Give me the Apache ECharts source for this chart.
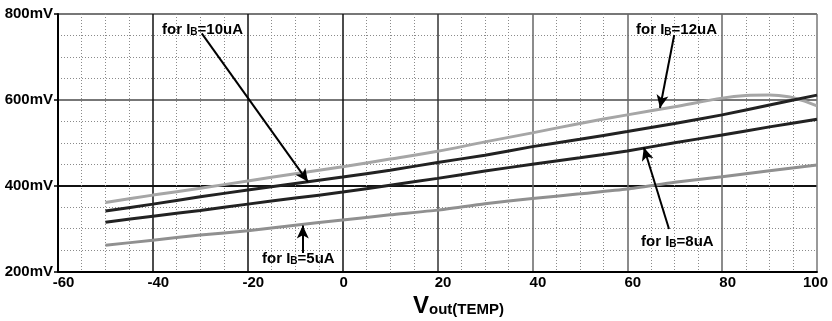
<!DOCTYPE html>
<html>
<head>
<meta charset="utf-8">
<script src="https://cdn.jsdelivr.net/npm/echarts@6/dist/echarts.min.js"></script>
<style>html,body{margin:0;padding:0;background:#fff}#c{width:832px;height:321px}</style>
</head>
<body>
<div id="c"></div>
<script>
// temperatures (deg C)
const temps = [-50, -40, -30, -20, -10, 0, 10, 20, 30, 40, 50, 60, 70, 80, 90, 100];
const temps12 = [-50, -40, -30, -20, -10, 0, 10, 20, 30, 40, 50, 60, 70, 80, 85, 90, 94, 97, 100];
// output voltage (mV)
const ib12 = [361, 378, 394, 411, 428, 444, 462, 480, 502, 523, 545, 565, 584, 604, 610, 611, 607, 598, 586];
const ib10 = [341, 357, 374, 390, 405, 420, 436, 454, 471, 491, 508, 526, 545, 565, 588, 611];
const ib8  = [315, 329, 342, 357, 371, 385, 401, 417, 434, 450, 465, 481, 500, 518, 537, 555];
const ib5  = [261, 273, 285, 295, 308, 320, 332, 343, 358, 370, 381, 392, 408, 421, 435, 448];
// axis ticks
const xTicks = {min: -60, max: 100, step: 20};
const yTicks = {min: 200, max: 800, step: 200};
// annotation arrows (tail -> tip) in data units
const arrows = [
  [[-29.7, 755], [-7.3, 409]],
  [[69.9, 751], [66.9, 581]],
  [[-8.4, 243], [-8.4, 307]],
  [[68.8, 299], [63.5, 489]]
];
const labels = [
  {text: '10uA', left: 162, cy: 31.5},
  {text: '12uA', left: 636, cy: 31.5},
  {text: '5uA', left: 262, cy: 260.5},
  {text: '8uA', left: 641, cy: 244}
];

const chart = echarts.init(document.getElementById('c'), null, {renderer: 'canvas'});
const font = 'Liberation Sans, Arial, sans-serif';
function pairs(xs, ys) { return xs.map((x, i) => [x, ys[i]]); }

const option = {
  animation: false,
  backgroundColor: '#fff',
  grid: {left: 58, right: 15, top: 14, bottom: 49.5, containLabel: false},
  xAxis: {
    type: 'value', min: xTicks.min, max: xTicks.max, interval: xTicks.step,
    axisLine: {show: true, onZero: false, lineStyle: {color: '#000', width: 2}},
    axisTick: {show: false},
    axisLabel: {
      margin: 4, fontFamily: font, fontWeight: 'bold', fontSize: 15, color: '#000',
      formatter: v => v === 100 ? '{n|' + v + '}' : (v === 0 ? '{z|' + v + '}' : '{p|' + v + '}'),
      rich: {
        n: {fontFamily: font, fontWeight: 'bold', fontSize: 15, color: '#000', padding: [0, 3, 0, 0]},
        z: {fontFamily: font, fontWeight: 'bold', fontSize: 15, color: '#000', padding: [0, 0, 0, 2]},
        p: {fontFamily: font, fontWeight: 'bold', fontSize: 15, color: '#000', padding: [0, 0, 0, 11]}
      }
    },
    splitLine: {show: true, lineStyle: {color: ['#111', '#111', '#111', '#111', '#333', '#666', '#666', '#666', '#777'], width: 1.5}},
    minorTick: {show: false, splitNumber: 4},
    minorSplitLine: {show: true, lineStyle: {color: '#8a8a8a', type: [1, 2], width: 1}}
  },
  yAxis: {
    type: 'value', min: yTicks.min, max: yTicks.max, interval: yTicks.step,
    axisLine: {show: true, onZero: false, lineStyle: {color: '#000', width: 2}},
    axisTick: {show: true, length: 4, lineStyle: {color: '#000', width: 1.5}},
    axisLabel: {margin: 5, fontFamily: font, fontWeight: 'bold', fontSize: 15, color: '#000', formatter: v => v + 'mV'},
    splitLine: {show: true, lineStyle: {color: ['#111', '#111', '#777', '#777'], width: 2}},
    minorTick: {show: false, splitNumber: 4},
    minorSplitLine: {show: true, lineStyle: {color: '#8a8a8a', type: [1, 2], width: 1}}
  },
  series: [
    {name: 'IB=12uA', type: 'line', data: pairs(temps12, ib12), smooth: 0.3, showSymbol: false,
     lineStyle: {color: '#a6a6a6', width: 3}, z: 3},
    {name: 'IB=10uA', type: 'line', data: pairs(temps, ib10), smooth: 0.2, showSymbol: false,
     lineStyle: {color: '#222', width: 3}, z: 4},
    {name: 'IB=8uA', type: 'line', data: pairs(temps, ib8), smooth: 0.2, showSymbol: false,
     lineStyle: {color: '#222', width: 3}, z: 4},
    {name: 'IB=5uA', type: 'line', data: pairs(temps, ib5), smooth: 0.2, showSymbol: false,
     lineStyle: {color: '#909090', width: 3}, z: 3,
     markLine: {
       silent: true, animation: false, symbol: ['none', 'arrow'], symbolSize: [9, 13],
       label: {show: false},
       lineStyle: {color: '#000', width: 2, type: 'solid'},
       data: arrows.map(a => [{coord: a[0]}, {coord: a[1]}])
     }}
  ],
  graphic: labels.map(l => ({
    type: 'text', left: l.left, top: l.cy - 9.5, z: 100,
    style: {
      text: '{t|for I}{s|B}{t|=' + l.text + '}',
      rich: {
        t: {fontFamily: font, fontWeight: 'bold', fontSize: 15, color: '#000', lineHeight: 19, verticalAlign: 'bottom'},
        s: {fontFamily: font, fontWeight: 'bold', fontSize: 10, color: '#000', lineHeight: 19, verticalAlign: 'bottom', padding: [4, 0, 0, 0]}
      }
    }
  })).concat([
    {type: 'text', left: 413, top: 306.5 - 12, z: 100,
     style: {text: 'V', fontFamily: font, fontWeight: 'bold', fontSize: 24, fill: '#000'}},
    {type: 'text', left: 429, top: 310.5 - 8, z: 100,
     style: {text: 'out(TEMP)', fontFamily: font, fontWeight: 'bold', fontSize: 15, fill: '#000'}}
  ])
};
chart.setOption(option);
</script>
</body>
</html>
